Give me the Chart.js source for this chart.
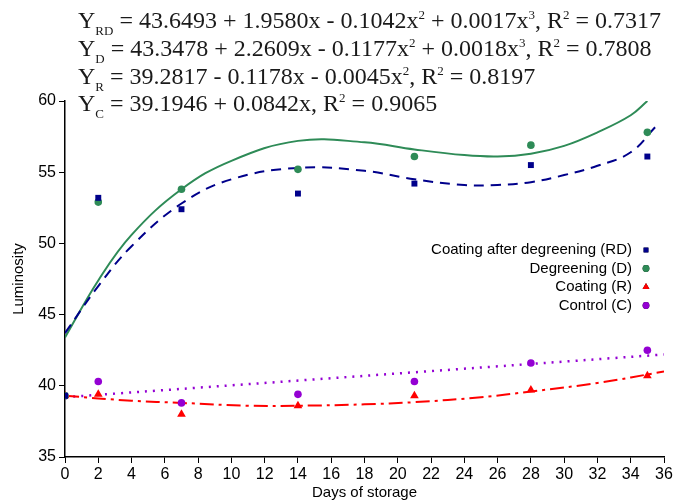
<!DOCTYPE html>
<html>
<head>
<meta charset="utf-8">
<script src="https://cdn.jsdelivr.net/npm/chart.js@4"></script>
<style>
  body { margin: 0; background: #fff; }
  #wrap { position: relative; width: 675px; height: 502px; }
  #eqs { position: absolute; left: 78px; top: 7px; font-family: "Liberation Serif", "Times New Roman", serif;
         font-size: 24px; color: #1a1a1a; line-height: 27.8px; white-space: nowrap; }
  #eqs sub { font-size: 13px; vertical-align: -7px; line-height: 0; }
  #eqs sup { font-size: 13px; vertical-align: 9px; line-height: 0; }
</style>
</head>
<body>
<div id="wrap">
  <canvas id="lumChart" width="675" height="502"></canvas>
  <div id="eqs">
    <div>Y<sub>RD</sub> = 43.6493 + 1.9580x - 0.1042x<sup>2</sup> + 0.0017x<sup>3</sup>, R<sup>2</sup> = 0.7317</div>
    <div>Y<sub>D</sub> = 43.3478 + 2.2609x - 0.1177x<sup>2</sup> + 0.0018x<sup>3</sup>, R<sup>2</sup> = 0.7808</div>
    <div>Y<sub>R</sub> = 39.2817 - 0.1178x - 0.0045x<sup>2</sup>, R<sup>2</sup> = 0.8197</div>
    <div>Y<sub>C</sub> = 39.1946 + 0.0842x, R<sup>2</sup> = 0.9065</div>
  </div>
</div>
<script>
// measured points
const days = [0, 2, 7, 14, 21, 28, 35];
const rdValues = [39.3, 53.2, 52.4, 53.5, 54.2, 55.5, 56.1];
const dValues = [39.3, 52.9, 53.8, 55.2, 56.1, 56.9, 57.8];
const rValues = [39.3, 39.4, 38.0, 38.6, 39.3, 39.7, 40.7];
const cValues = [39.3, 40.3, 38.8, 39.4, 40.3, 41.6, 42.5];

// trend lines
const rdFitDays = [0, 2, 4, 7, 10, 14, 18, 21, 24, 26, 28, 30, 32, 34, 35.5];
const rdFit = [43.7, 47.0, 49.8, 52.8, 54.5, 55.3, 55.1, 54.5, 54.1, 54.1, 54.3, 54.8, 55.45, 56.4, 58.2];
const dFitDays = [0, 2, 4, 7, 10, 14, 18, 21, 24, 26, 28, 30, 32, 34, 35];
const dFit = [43.4, 47.4, 50.6, 53.8, 55.8, 57.2, 57.1, 56.6, 56.2, 56.1, 56.3, 56.85, 57.8, 59.0, 60.0];
const rFitDays = [0, 4, 7, 11, 14, 18, 21, 25, 28, 32, 36];
const rFit = [39.3, 38.95, 38.8, 38.6, 38.6, 38.7, 38.85, 39.2, 39.6, 40.2, 41.0];
const cFitDays = [0, 36];
const cFit = [39.2, 42.2];

const xTicks = [0, 2, 4, 6, 8, 10, 12, 14, 16, 18, 20, 22, 24, 26, 28, 30, 32, 34, 36];

const navy = "#00008b", green = "#2e8b57", red = "#ff0000", purple = "#9400d3";

const pts = (xs, ys) => xs.map((x, i) => ({ x: x, y: ys[i] }));

function fitLine(xs, ys, color, dash, width) {
  return {
    data: pts(xs, ys), showLine: true, pointRadius: 0, borderColor: color,
    borderWidth: width || 2, borderDash: dash, fill: false,
    tension: 0.4, isFit: true, order: 10
  };
}

function markers(label, ys, color, style, r) {
  return {
    label: label, data: pts(days, ys), showLine: false, pointStyle: style,
    pointRadius: r, backgroundColor: color, borderColor: color, borderWidth: 0, order: 1
  };
}

// legend drawn by hand: text on the left, marker on the right
const sideLegend = {
  id: "sideLegend",
  afterDraw(chart) {
    const ctx = chart.ctx;
    ctx.save();
    ctx.font = "15px 'Liberation Sans', Arial, sans-serif";
    ctx.textAlign = "right";
    ctx.textBaseline = "middle";
    let y = 250;
    chart.data.datasets.forEach((ds) => {
      if (ds.isFit) return;
      ctx.fillStyle = "#000";
      ctx.fillText(ds.label, 632, y);
      Chart.helpers.drawPoint(ctx, {
        pointStyle: ds.pointStyle, radius: ds.pointStyle === "triangle" ? 4 : 3.4,
        borderWidth: 0
      }, 646, y);
      ctx.fillStyle = ds.backgroundColor;
      ctx.fill();
      y += 18.5;
    });
    ctx.restore();
  }
};

new Chart(document.getElementById("lumChart"), {
  type: "scatter",
  data: {
    datasets: [
      markers("Coating after degreening (RD)", rdValues, navy, "rect", 4.2),
      markers("Degreening (D)", dValues, green, "circle", 3.8),
      markers("Coating (R)", rValues, red, "triangle", 5),
      markers("Control (C)", cValues, purple, "circle", 3.8),
      fitLine(rdFitDays, rdFit, navy, [10, 7]),
      fitLine(dFitDays, dFit, green, []),
      fitLine(rFitDays, rFit, red, [14, 5, 3, 5]),
      fitLine(cFitDays, cFit, purple, [2, 6], 2.5)
    ]
  },
  options: {
    responsive: false,
    animation: false,
    layout: { padding: { top: 101, right: 11, left: 0, bottom: 0 } },
    plugins: { legend: { display: false }, tooltip: { enabled: false } },
    scales: {
      x: {
        type: "linear", min: 0, max: 36,
        afterBuildTicks: (s) => { s.ticks = xTicks.map((v) => ({ value: v })); },
        afterFit: (s) => { s.height = 45; },
        ticks: { color: "#000", font: { family: "'Liberation Sans', Arial", size: 16 }, padding: 2, maxRotation: 0 },
        grid: { drawOnChartArea: false, drawTicks: true, tickLength: 6, color: "#000" },
        border: { color: "#000", width: 1.5 },
        title: { display: true, text: "Days of storage", color: "#000",
                 font: { family: "'Liberation Sans', Arial", size: 15 }, padding: 0 }
      },
      y: {
        min: 35, max: 60,
        afterFit: (s) => { s.width = 65; },
        ticks: { stepSize: 5, color: "#000", font: { family: "'Liberation Sans', Arial", size: 16 }, padding: 3 },
        grid: { drawOnChartArea: false, drawTicks: true, tickLength: 6, color: "#000" },
        border: { color: "#000", width: 1.5 },
        title: { display: true, text: "Luminosity", color: "#000",
                 font: { family: "'Liberation Sans', Arial", size: 15 }, padding: { top: 10, bottom: 0 } }
      }
    }
  },
  plugins: [sideLegend]
});
</script>
</body>
</html>
